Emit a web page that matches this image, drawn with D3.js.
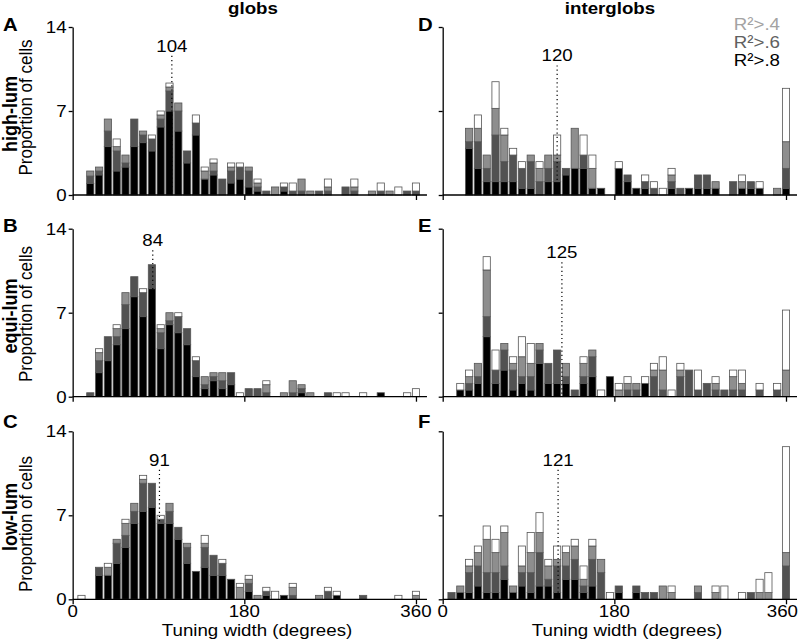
<!DOCTYPE html>
<html><head><meta charset="utf-8">
<script src="https://cdn.jsdelivr.net/npm/d3@7"></script>
<style>
body{margin:0;background:#fff}
svg{display:block}
text{font-family:"Liberation Sans",Arial,Helvetica,sans-serif}
</style>
</head><body>
<svg id="chart" width="800" height="642"></svg>
<script>
// ---------- DATA ----------
const binCount = 40;               // bins k = 0..39
const binStepDeg = 360 / 39;       // bin centre spacing in degrees
const xTickValues = [0, 180, 360];
const yTickValues = [0, 7, 14];
const columnTitles = ["globs", "interglobs"];
const rowLabels = ["high-lum", "equi-lum", "low-lum"];
const panelLetters = ["A", "B", "C", "D", "E", "F"];
const medianValues = [104, 84, 91, 120, 125, 121];
const legendLabels = ["R\u00b2>.4", "R\u00b2>.6", "R\u00b2>.8"];

// cumulative proportions (%) : R2>.8, R2>.6, R2>.4, all cells
const A_r8 = [0,0,0.97,1.67,4.03,2.0,2.33,4.03,4.36,3.67, 5.67,7.0,5.33,2.67,5.0,1.33,1.67,0,1.0,1.33, 0.67,0.33,0,0,0.33,0,0,0,0,0, 0,0,0,0,0,0,0,0,0,0];
const A_r6 = [0,0,1.58,2.0,5.33,3.67,2.67,6.33,5.0,4.67, 6.33,8.67,7.0,3.67,6.0,1.33,2.0,1.33,2.0,2.33, 2.0,0.67,0.33,0,0.67,0.33,0.33,0,0.33,0.33, 0,0.67,0.33,0,0,0.33,0,0,0.33,0.33];
const A_r4 = [0,0,2.0,2.33,6.33,4.03,3.33,6.33,5.33,4.67, 6.67,9.0,7.67,3.67,6.0,2.0,2.67,1.33,2.33,2.33, 2.33,1.0,0.33,0.67,0.67,0.33,1.33,0.33,0.33,0.67, 0,0.67,0.67,0,0.33,0.33,0.33,0,0.33,0.33];
const A_all = [0,0,2.0,2.33,6.33,4.67,3.33,6.33,5.33,5.0, 7.0,9.33,7.67,3.67,6.67,2.33,3.0,1.33,2.67,2.67, 2.33,1.33,0.33,0.67,1.0,1.0,1.33,0.33,0.33,1.33, 0,0.67,1.33,0,0.33,1.0,0.33,0.67,0.33,1.0];

const B_r8 = [0,0,0,2.0,3.0,4.33,5.67,8.33,6.67,9.0, 4.0,6.0,5.33,4.33,1.67,0.67,1.33,0.67,1.0,0, 0,0,0,0,0,0,0.33,0,0,0, 0,0,0,0,0,0.33,0,0,0,0];
const B_r6 = [0,0,0.33,3.0,5.0,5.0,7.67,10.0,8.67,11.0, 5.33,6.33,6.67,5.67,3.0,1.0,1.67,1.33,2.0,0, 0.67,0.67,0.33,0,0,0.33,0.67,0,0,0.33, 0,0,0,0,0,0.33,0,0,0,0];
const B_r4 = [0,0,0.33,3.67,5.0,5.67,8.67,10.0,8.67,11.0, 5.67,7.0,6.67,5.67,3.0,1.67,2.0,2.0,2.0,0, 0.67,0.67,1.0,0,0.33,1.33,1.0,0.33,0,0.33, 0,0,0,0,0,0.33,0,0,0,0];
const B_all = [0,0,0.33,4.0,5.0,6.0,8.67,10.0,9.0,11.0, 6.0,7.0,7.0,5.67,3.33,1.67,2.0,2.0,2.0,0.33, 0.67,0.67,1.33,0,0.33,1.33,1.0,0.33,0,0.33, 0.33,0.33,0,0.33,0,0.33,0,0,0.33,0.67];

const C_r8 = [0,0,0,2.0,2.0,3.0,4.33,6.33,7.33,7.67, 6.33,6.33,5.0,3.0,2.33,2.67,2.0,2.0,1.67,0, 0.67,0,0.33,0,0.33,0,0,0,0,0, 0.33,0,0,0,0,0,0,0,0,0];
const C_r6 = [0,0,0,2.67,2.0,4.67,5.33,7.33,9.67,9.67, 6.67,7.33,6.0,4.33,2.33,4.33,3.67,3.0,1.67,0, 1.33,0,0.67,0,0.33,0.33,0,0,0,0.67, 0.33,0,0,0.33,0,0,0,0,0,0];
const C_r4 = [0,0,0,2.67,2.67,5.0,6.33,8.0,10.0,9.67, 6.67,8.0,6.0,4.67,2.33,4.67,3.67,3.0,1.67,1.0, 1.67,0.33,0.67,0,0.33,1.0,0,0,0.33,0.67, 0.33,0,0,0.33,0,0,0,0,0,0.33];
const C_all = [0,0.33,0,2.67,3.0,5.0,6.67,8.0,10.33,9.67, 7.0,8.0,6.0,4.67,2.33,5.33,3.67,3.33,1.67,1.33, 2.0,0.33,1.0,0.67,0.33,1.33,0,0,0.33,1.0, 0.67,0,0,0.33,0,0,0,0.33,0,0.67];

const D_r8 = [0,0,0,3.89,2.22,1.11,1.11,1.11,1.11,0.56, 0.56,0,1.11,1.11,1.67,2.22,2.22,0.56,0.56,0, 2.22,1.11,0.56,0.56,0,0,0.56,0,0.56,0.56, 0.56,0.56,0,0,0.56,0.56,0.56,0,0,0.56];
const D_r6 = [0,0,0,4.44,4.44,2.22,5.0,2.78,3.33,2.22, 2.78,1.11,2.22,2.78,2.22,2.22,3.33,0.56,0.56,0, 2.22,1.67,0.56,1.11,0.56,0,1.11,0.56,0.56,1.67, 1.67,0.56,0,1.11,0.56,1.11,0.56,0,0,2.22];
const D_r4 = [0,0,0,5.56,5.56,3.33,7.22,5.0,3.33,2.22, 3.33,2.22,3.33,3.33,2.22,5.56,3.33,2.22,0.56,0, 2.22,1.67,0.56,1.11,0.56,0,1.67,0.56,0.56,1.67, 1.67,1.11,0,1.11,1.11,1.11,0.56,0,0.56,4.44];
const D_all = [0,0,0,5.56,6.67,3.33,9.44,5.56,3.89,2.78, 3.33,2.78,3.33,5.0,2.22,5.56,5.0,3.33,0.56,0, 2.78,1.67,0.56,1.67,1.11,0.56,2.22,0.56,0.56,1.67, 1.67,1.11,0,1.11,1.67,1.11,1.11,0,0.56,8.89];

const E_r8 = [0,0,0.56,0.56,1.11,5.0,1.11,2.22,0.56,1.11, 0.56,2.78,1.11,1.11,1.11,0,1.11,1.67,0,1.67, 0,0,0,1.11,0,0,0,0,0,0, 0,0,0,0,0,0,0,0,0,0];
const E_r6 = [0,0,0.56,1.11,1.67,6.67,2.22,3.89,2.22,1.67, 1.67,3.89,2.78,3.89,1.67,0.56,1.67,3.33,0,1.67, 0,0.56,0.56,1.11,1.67,0.56,0,1.67,2.22,0.56, 1.11,0.56,0.56,0.56,0.56,0,0.56,0,0.56,0];
const E_r4 = [0,0,0.56,1.67,2.78,10.56,2.22,4.44,2.78,3.33, 2.78,4.44,2.78,3.89,2.78,0.56,2.78,3.89,0,1.67, 0.56,1.11,1.11,1.11,2.22,2.22,0,2.22,2.22,0.56, 1.11,1.11,0.56,1.67,1.11,0,0.56,0,0.56,2.22];
const E_all = [0,0,1.11,2.22,2.78,11.67,3.89,4.44,3.33,5.0, 4.44,4.44,2.78,3.89,2.78,0.56,3.33,3.89,0.56,1.67, 1.11,1.67,1.11,1.67,2.78,3.33,0.56,2.78,2.22,2.22, 1.11,1.67,0.56,2.22,2.22,0,1.11,0,1.11,7.22];

const F_r8 = [0,0,0.56,0.56,1.11,0.56,0.56,1.67,0.56,1.11, 0.56,1.11,1.11,0.56,1.67,1.67,0.56,1.11,0,0, 0.56,0,0.56,0,0,0,0,0,0,0, 0,0,0,0,0,0,0,0,0,0];
const F_r6 = [0,0.56,0.56,2.22,2.78,2.22,2.22,2.78,0.56,2.22, 2.22,3.89,1.67,2.78,2.78,3.33,1.11,3.33,2.22,0, 1.11,0,1.11,0.56,0.56,0,0,0,0,0.56, 0,0,0,0,0,0.56,0,0,0,2.78];
const F_r4 = [0,0.56,1.11,2.78,3.89,5.0,3.89,5.56,1.11,2.78, 3.89,5.56,2.78,3.33,3.89,4.44,1.67,4.44,3.33,0, 1.11,0,1.11,0.56,0.56,1.11,0.56,0,0,1.11, 0,0.56,0,0,0,0.56,0.56,0.56,0,3.89];
const F_all = [0,0.56,1.11,3.33,4.44,6.11,5.0,6.11,1.11,4.44, 5.56,7.22,3.33,4.44,4.44,5.0,2.78,5.0,3.33,0.56, 1.11,0,1.11,0.56,0.56,1.11,1.11,0,0,1.11, 0,1.11,1.11,0,0.56,0.56,1.67,2.22,0,12.72];

const panelSeries = [
  [A_r8, A_r6, A_r4, A_all], [B_r8, B_r6, B_r4, B_all], [C_r8, C_r6, C_r4, C_all],
  [D_r8, D_r6, D_r4, D_all], [E_r8, E_r6, E_r4, E_all], [F_r8, F_r6, F_r4, F_all]
];

// ---------- LAYOUT / STYLE ----------
const colX0 = [72.67, 442.7];
const plotW = 343.3;
const rowY0 = [195, 396.7, 599.3];
const plotH = 168;
const levelFills = ["#000000", "#525252", "#8e8e8e", "#ffffff"];
const barStroke = "#555";
const medianTop = [11.6, 12.2, 10.8, 10.8, 11.2, 10.8]; // in y units
const SX = 1.1; // horizontal stretch of original typography

const svg = d3.select("#chart");

function txt(x, y, s, o = {}) {
  const size = o.size || 17, anchor = o.anchor || "middle";
  return svg.append("text")
    .attr("transform", `translate(${x},${y}) scale(${SX},1)` + (o.rotate ? " rotate(-90)" : ""))
    .attr("text-anchor", anchor)
    .style("font-size", size + "px")
    .style("font-weight", o.weight || "normal")
    .attr("fill", o.fill || "#000")
    .text(s);
}

panelSeries.forEach((series, p) => {
  const col = Math.floor(p / 3), row = p % 3;
  const x = d3.scaleLinear().domain([0, 360]).range([colX0[col], colX0[col] + plotW]);
  const y = d3.scaleLinear().domain([0, 14]).range([rowY0[row], rowY0[row] - plotH]);
  const g = svg.append("g");
  const pitch = x(binStepDeg) - x(0);
  const bw = pitch - 1.6;

  // stacked (nested) bars
  for (let k = 0; k < binCount; k++) {
    for (let lv = 0; lv < 4; lv++) {
      const lo = lv === 0 ? 0 : series[lv - 1][k];
      const hi = series[lv][k];
      if (hi - lo <= 0.001) continue;
      g.append("rect")
        .attr("x", x(k * binStepDeg) - bw / 2)
        .attr("width", bw)
        .attr("y", y(hi))
        .attr("height", y(lo) - y(hi))
        .attr("fill", levelFills[lv])
        .attr("stroke", barStroke)
        .attr("stroke-width", 0.8);
    }
  }

  // axes
  const yAx = g.append("g").attr("transform", `translate(${colX0[col]},0)`)
    .call(d3.axisLeft(y).tickValues(yTickValues).tickSize(4).tickSizeOuter(0).tickFormat(""));
  const xAx = g.append("g").attr("transform", `translate(0,${rowY0[row]})`)
    .call(d3.axisBottom(x).tickValues(xTickValues).tickSize(5).tickSizeOuter(0).tickFormat(""));
  xAx.select(".domain").attr("d", `M${x(0)},0H${x(360) + 11}`);
  [yAx, xAx].forEach(a => {
    a.selectAll(".domain,line").attr("stroke", "#000").attr("stroke-width", 1.3);
  });

  if (col === 0) {
    yTickValues.forEach(v => txt(colX0[0] - 6, y(v) + 6, String(v), { anchor: "end" }));
  }
  if (row === 2) {
    xTickValues.forEach(v => {
      const edge = col === 1 && v === 360;
      txt(edge ? 798 : x(v), 617, String(v), { anchor: edge ? "end" : "middle" });
    });
    txt(col === 0 ? 257 : 627, 636, "Tuning width (degrees)");
  }

  // median marker
  const mx = x(medianValues[p]);
  g.append("line")
    .attr("x1", mx).attr("x2", mx)
    .attr("y1", y(medianTop[p])).attr("y2", y(0))
    .attr("stroke", "#000").attr("stroke-width", 1.2)
    .attr("stroke-dasharray", "1.2,3");
  txt(mx, y(medianTop[p]) - 4, String(medianValues[p]));

  // panel letter
  txt(col === 0 ? 3 : 418, [31, 232, 428][row], panelLetters[p], { anchor: "start", weight: "bold", size: 18.5 });
});

// column titles
txt(253, 14, columnTitles[0], { weight: "bold" });
txt(610, 14, columnTitles[1], { weight: "bold" });

// row labels
const rowLabelY = [114, 316, 517];
const propY = [107.5, 314, 524];
rowLabels.forEach((r, i) => {
  txt(17, rowLabelY[i], r, { rotate: true, weight: "bold", size: 18 });
  txt(32, propY[i], "Proportion of cells", { rotate: true });
});

// legend
const legendFills = ["#a3a3a3", "#606060", "#000"];
legendLabels.forEach((l, i) => txt(780, 30 + i * 18, l, { anchor: "end", fill: legendFills[i] }));
</script>
</body></html>
